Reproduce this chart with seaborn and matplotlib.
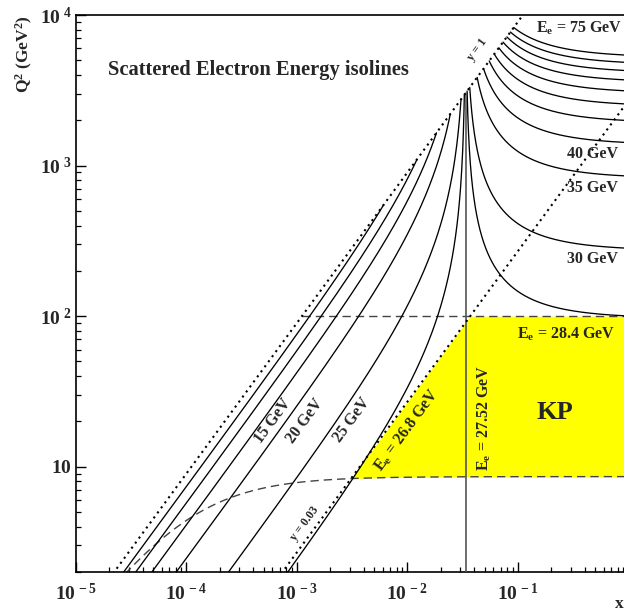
import numpy as np
import pandas as pd
import matplotlib
matplotlib.use("Agg")
import matplotlib.pyplot as plt
import seaborn as sns

# ---------------- data ----------------
E_BEAM = 27.52            # electron beam energy (GeV)
P_BEAM = 820.0            # proton beam energy (GeV)
E_LOW = [5, 10, 15, 20, 25, 26.8]                       # isolines below beam energy
E_HIGH = [28.4, 30, 35, 40, 45, 50, 55, 60, 65, 70, 75]  # isolines above beam energy
Y_LINES = [1.0, 0.03]
Q2_CUT = 100.0
THETA_DEG = 173.9         # electron angle isoline (dashed)
X_RANGE = [1e-5, 1.0]
Q2_RANGE = [2.0, 1e4]
X_TICKS = [1e-5, 1e-4, 1e-3, 1e-2, 1e-1]
X_TICK_LABELS = [r"$10^{\,-5}$", r"$10^{\,-4}$", r"$10^{\,-3}$", r"$10^{\,-2}$", r"$10^{\,-1}$"]
Y_TICKS = [10, 100, 1000, 10000]
Y_TICK_LABELS = [r"$10^{\ \ \ }$", r"$10^{\ 2}$", r"$10^{\ 3}$", r"$10^{\ 4}$"]

TITLE = "Scattered Electron Energy isolines"
TEXT_LABELS = [
    # text, x, Q2, rotation, size
    (r"E$_{\rm e}$ = 75 GeV", 0.356, 8194, 0, 11.5),
    ("40 GeV", 0.468, 1189, 0, 11.5),
    ("35 GeV", 0.468, 706, 0, 11.5),
    ("30 GeV", 0.468, 238, 0, 11.5),
    (r"E$_{\rm e}$ = 28.4 GeV", 0.2716, 75.4, 0, 11.5),
    ("KP", 0.2163, 22.8, 0, 19),
    (r"E$_{\rm e}$ = 27.52 GeV", 0.0492, 21.1, 90, 11.5),
    (r"E$_{\rm e}$ = 26.8 GeV", 0.00988, 17.6, 53.7, 11.5),
    ("15 GeV", 6.07e-4, 20.2, 53.7, 11.5),
    ("20 GeV", 1.18e-3, 20.2, 53.7, 11.5),
    ("25 GeV", 3.15e-3, 20.5, 53.7, 11.5),
    ("y = 0.03", 1.18e-3, 4.17, 53.7, 8.5),
    ("y = 1", 0.0426, 5851, 53.7, 8.5),
]

# ---------------- kinematics ----------------
S = 4 * E_BEAM * P_BEAM


def q2_iso(x, e):
    return (e - E_BEAM) / (1.0 / (4 * E_BEAM) - E_BEAM / (S * x))


rows = []
for e in E_LOW:
    xs = np.geomspace(1e-6, e / P_BEAM, 1500)
    rows.append(pd.DataFrame({"x": xs, "Q2": q2_iso(xs, e), "curve": f"E{e}"}))
for e in E_HIGH:
    xs = np.geomspace(e / P_BEAM, 1.0, 3000)
    rows.append(pd.DataFrame({"x": xs, "Q2": q2_iso(xs, e), "curve": f"E{e}"}))
iso = pd.concat(rows, ignore_index=True)

kp = pd.DataFrame({"x": [E_BEAM / P_BEAM] * 2, "Q2": [1.0, 4 * E_BEAM ** 2]})

xfull = np.geomspace(1e-6, 1.0, 2000)
ylines = pd.concat([pd.DataFrame({"x": xfull, "Q2": yv * S * xfull, "curve": f"y{yv}"})
                    for yv in Y_LINES], ignore_index=True)

th = np.radians(THETA_DEG)
A = 4 * E_BEAM ** 2 / np.tan(th / 2) ** 2
theta_df = pd.DataFrame({"x": xfull, "Q2": A * S * xfull / (A + S * xfull), "curve": "theta"})
xc = np.geomspace(Q2_CUT / S, 1.0, 50)
cut_df = pd.DataFrame({"x": xc, "Q2": np.full_like(xc, Q2_CUT), "curve": "cut"})
dashed = pd.concat([theta_df, cut_df], ignore_index=True)

# ---------------- plot ----------------
sns.set_style("ticks")
plt.rcParams["font.family"] = ["Liberation Serif", "DejaVu Serif"]
plt.rcParams["font.weight"] = "bold"
plt.rcParams["mathtext.fontset"] = "custom"
plt.rcParams["mathtext.rm"] = "Liberation Serif:bold"
plt.rcParams["mathtext.it"] = "Liberation Serif:bold"
plt.rcParams["mathtext.bf"] = "Liberation Serif:bold"

fig = plt.figure(figsize=(6.24, 6.13), dpi=100)
ax = fig.add_axes([76 / 624, 41 / 613, 552.5 / 624, 557 / 613])
ax.set_xscale("log")
ax.set_yscale("log")

# yellow kinematic-peak region
xf = np.geomspace(1e-4, 1.0, 3000)
lower = A * S * xf / (A + S * xf)
upper = np.minimum(Q2_CUT, Y_LINES[1] * S * xf)
ax.fill_between(xf, lower, upper, where=upper > lower, interpolate=True,
                color="#ffff00", lw=0, zorder=1)

sns.lineplot(data=iso, x="x", y="Q2", units="curve", estimator=None, sort=False,
             color="black", lw=0.95, ax=ax, zorder=3, legend=False)
sns.lineplot(data=kp, x="x", y="Q2", estimator=None, sort=False,
             color="#555555", lw=1.2, ax=ax, zorder=3, legend=False)
sns.lineplot(data=ylines, x="x", y="Q2", units="curve", estimator=None, sort=False,
             color="black", lw=1.5, linestyle=(0, (1, 2)), ax=ax, zorder=4, legend=False)
sns.lineplot(data=dashed, x="x", y="Q2", units="curve", estimator=None, sort=False,
             color="#444444", lw=1.0, linestyle=(0, (6, 3.6)), ax=ax, zorder=2, legend=False)

ax.set_xlim(*X_RANGE)
ax.set_ylim(*Q2_RANGE)
ax.set_xlabel("")
ax.set_ylabel("")

ax.set_xticks(X_TICKS)
ax.set_xticklabels(X_TICK_LABELS)
ax.set_yticks(Y_TICKS)
ax.set_yticklabels(Y_TICK_LABELS)
ax.xaxis.set_minor_locator(matplotlib.ticker.LogLocator(base=10, subs=np.arange(2, 10), numticks=20))
ax.yaxis.set_minor_locator(matplotlib.ticker.LogLocator(base=10, subs=np.arange(2, 10), numticks=20))
ax.xaxis.set_minor_formatter(matplotlib.ticker.NullFormatter())
ax.yaxis.set_minor_formatter(matplotlib.ticker.NullFormatter())
ax.tick_params(which="major", direction="in", length=7.2, width=1.0, labelsize=14,
               top=False, right=False, color="black")
ax.tick_params(which="minor", direction="in", length=3.6, width=0.9,
               top=False, right=False, color="black")
ax.tick_params(axis="x", which="major", pad=8)
ax.tick_params(axis="y", which="major", pad=3)
for sp in ax.spines.values():
    sp.set_linewidth(1.2)
    sp.set_color("black")
    sp.set_visible(True)

ax.text(1.95e-5, 4305, TITLE, fontsize=14.8, fontweight="bold", ha="left", va="center", zorder=6)
for txt, x, q2, rot, size in TEXT_LABELS:
    ax.text(x, q2, txt, fontsize=size, fontweight="bold", ha="center", va="center",
            rotation=rot, rotation_mode="anchor", zorder=6)

fig.text(24 / 624, 1 - 15 / 613, r"Q$^{2}$ (GeV$^{2}$)", rotation=90, ha="center", va="top",
         fontsize=12.5, fontweight="bold")
fig.text(615 / 624, 9 / 613, "x", ha="left", va="center", fontsize=12.5, fontweight="bold")

fig.savefig("out.png", dpi=100)
